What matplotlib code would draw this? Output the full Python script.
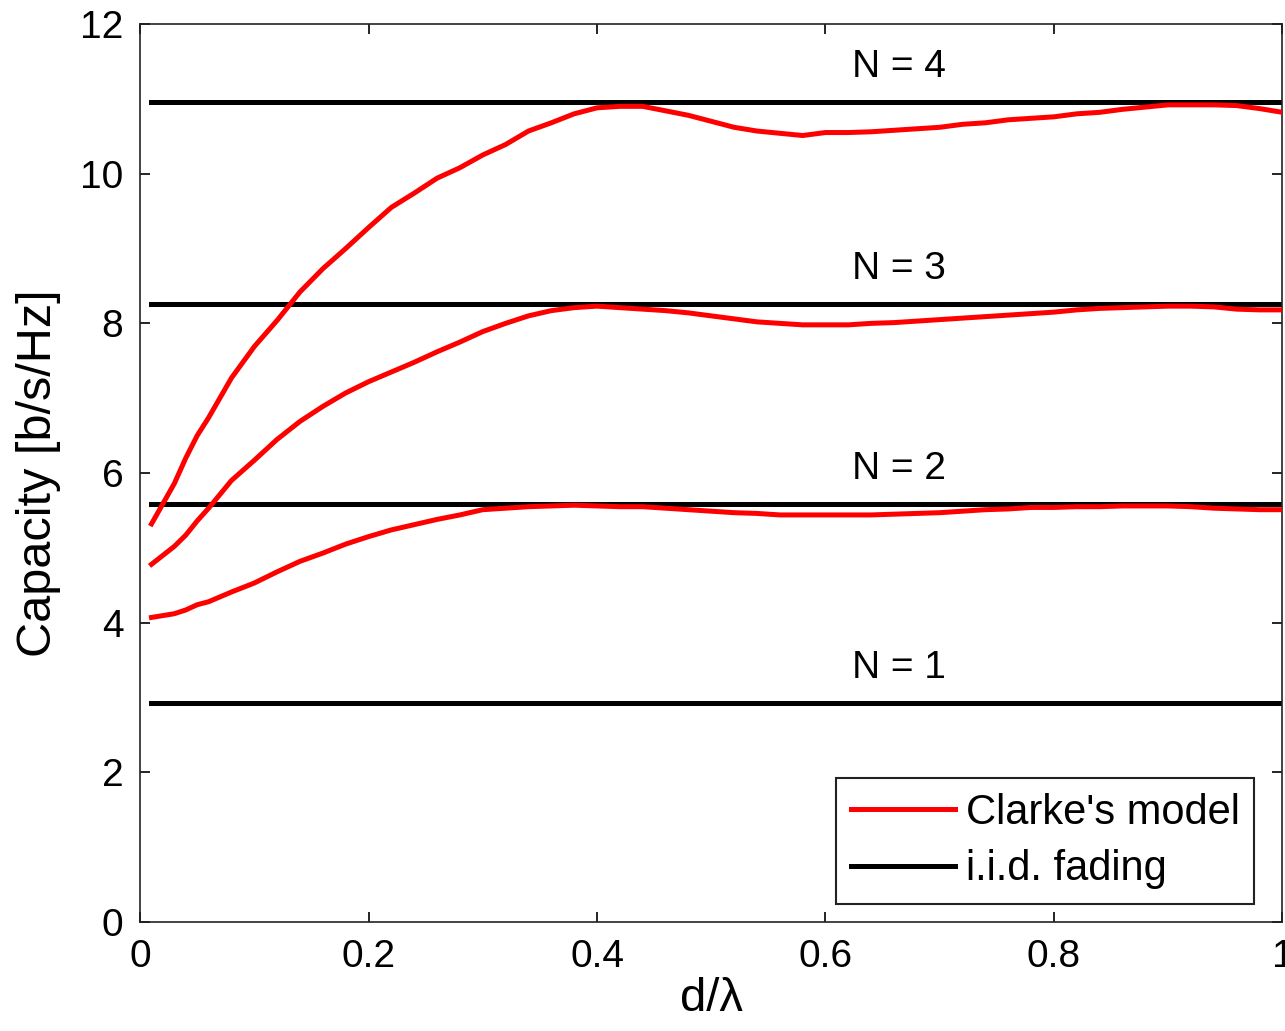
import matplotlib
matplotlib.use("Agg")
import matplotlib.pyplot as plt
import numpy as np

# spacing d/lambda
d_lambda = [0.01, 0.03, 0.04, 0.05, 0.06, 0.08, 0.10, 0.12, 0.14, 0.16, 0.18,
            0.20, 0.22, 0.24, 0.26, 0.28, 0.30, 0.32, 0.34, 0.36, 0.38, 0.40,
            0.42, 0.44, 0.46, 0.48, 0.50, 0.52, 0.54, 0.56, 0.58, 0.60, 0.62,
            0.64, 0.66, 0.68, 0.70, 0.72, 0.74, 0.76, 0.78, 0.80, 0.82, 0.84,
            0.86, 0.88, 0.90, 0.92, 0.94, 0.96, 0.98, 1.00]

# Clarke's model capacity for N = 2, 3, 4
clarke_n2 = [4.07, 4.12, 4.17, 4.24, 4.28, 4.41, 4.53, 4.68, 4.82, 4.93, 5.05,
             5.15, 5.24, 5.31, 5.38, 5.44, 5.51, 5.53, 5.55, 5.56, 5.57, 5.56,
             5.55, 5.55, 5.53, 5.51, 5.49, 5.47, 5.46, 5.44, 5.44, 5.44, 5.44,
             5.44, 5.45, 5.46, 5.47, 5.49, 5.51, 5.52, 5.54, 5.54, 5.55, 5.55,
             5.56, 5.56, 5.56, 5.55, 5.53, 5.52, 5.51, 5.51]
clarke_n3 = [4.78, 5.02, 5.17, 5.36, 5.53, 5.90, 6.17, 6.45, 6.69, 6.89, 7.07,
             7.22, 7.35, 7.48, 7.62, 7.75, 7.89, 8.00, 8.10, 8.17, 8.21, 8.23,
             8.21, 8.19, 8.17, 8.14, 8.10, 8.06, 8.02, 8.00, 7.98, 7.98, 7.98,
             8.00, 8.01, 8.03, 8.05, 8.07, 8.09, 8.11, 8.13, 8.15, 8.18, 8.20,
             8.21, 8.22, 8.23, 8.23, 8.22, 8.19, 8.18, 8.18]
clarke_n4 = [5.32, 5.86, 6.20, 6.50, 6.74, 7.27, 7.69, 8.04, 8.42, 8.73, 9.00,
             9.28, 9.55, 9.74, 9.94, 10.08, 10.25, 10.39, 10.57, 10.68, 10.80, 10.88,
             10.90, 10.90, 10.84, 10.78, 10.70, 10.62, 10.57, 10.54, 10.51, 10.55, 10.55,
             10.56, 10.58, 10.60, 10.62, 10.66, 10.68, 10.72, 10.74, 10.76, 10.80, 10.82,
             10.86, 10.89, 10.92, 10.92, 10.92, 10.91, 10.87, 10.82]

# i.i.d. fading capacity for N = 1..4
n_values = [1, 2, 3, 4]
iid_capacity = [2.93, 5.59, 8.26, 10.96]

plt.rcParams["font.family"] = ["Liberation Sans", "DejaVu Sans"]

fig = plt.figure(figsize=(12.85, 10.31), dpi=100)
ax = fig.add_axes([0.109, 0.1057, 0.889, 0.871])

x = np.array(d_lambda)
for i, cap in enumerate(iid_capacity):
    ax.plot([x[0], 1.0], [cap, cap], color="black", lw=3.6,
            label="i.i.d. fading" if i == 0 else None, zorder=2)
    ax.text(0.664, cap + 0.46, f"N = {n_values[i]}", ha="center", va="center",
            fontsize=28)

for j, curve in enumerate([clarke_n2, clarke_n3, clarke_n4]):
    ax.plot(x, curve, color="red", lw=3.6,
            label="Clarke's model" if j == 0 else None, zorder=3)

ax.set_xlim(0, 1)
ax.set_ylim(0, 12)
ax.set_xticks([0, 0.2, 0.4, 0.6, 0.8, 1])
ax.set_xticklabels(["0", "0.2", "0.4", "0.6", "0.8", "1"])
ax.set_yticks([0, 2, 4, 6, 8, 10, 12])
ax.tick_params(direction="in", top=True, right=True, length=7, width=1.2,
               labelsize=28, pad=12)
for s in ax.spines.values():
    s.set_linewidth(1.2)
    s.set_color("#222222")

ax.set_xlabel("d/λ", fontsize=34, labelpad=2)
ax.set_ylabel("Capacity [b/s/Hz]", fontsize=35, labelpad=14)

handles, labels = ax.get_legend_handles_labels()
order = [labels.index("Clarke's model"), labels.index("i.i.d. fading")]
leg = ax.legend([handles[k] for k in order], [labels[k] for k in order],
                loc="lower right", bbox_to_anchor=(0.9755, 0.02), fontsize=30,
                handlelength=2.5, handletextpad=0.26, borderpad=0.35,
                labelspacing=0.4, fancybox=False, framealpha=1,
                edgecolor="#222222", borderaxespad=0)
leg.get_frame().set_linewidth(1.5)

fig.savefig("out.png", dpi=100)
